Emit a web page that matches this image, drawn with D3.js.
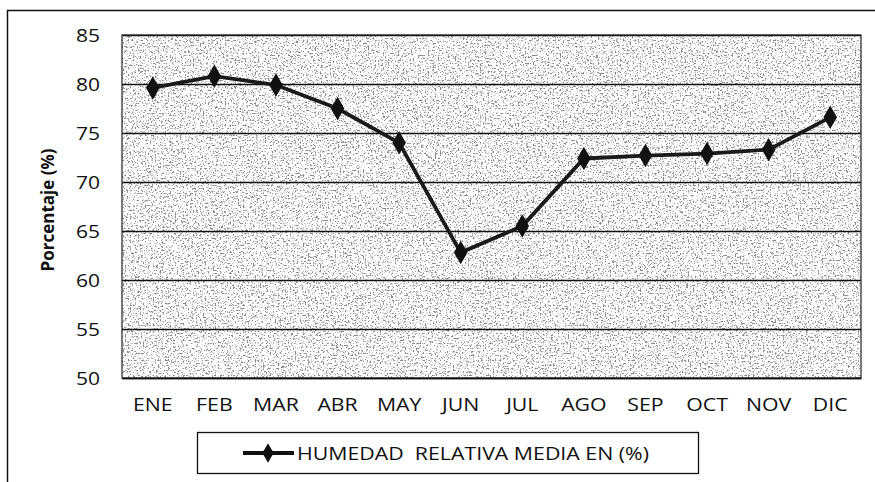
<!DOCTYPE html>
<html><head><meta charset="utf-8">
<script src="https://cdn.jsdelivr.net/npm/d3@7"></script>
<style>
html,body{margin:0;padding:0;background:#fff;}
svg{display:block;}
text{font-family:"Open Sans",Lato,sans-serif;fill:#111;}
</style></head>
<body>
<svg id="c" width="875" height="482"></svg>
<script>
const months = ["ENE","FEB","MAR","ABR","MAY","JUN","JUL","AGO","SEP","OCT","NOV","DIC"];
const humedad = [79.6, 80.8, 79.9, 77.5, 74.0, 62.8, 65.5, 72.4, 72.7, 72.9, 73.3, 76.6];
const yTicks = [50, 55, 60, 65, 70, 75, 80, 85];
const seriesName = "HUMEDAD  RELATIVA MEDIA EN (%)";
const yTitle = "Porcentaje (%)";

const FONT = "'Open Sans',Lato,sans-serif";
const svg = d3.select("#c");
const m = {left:122, top:35, right:861, bottom:378};

const defs = svg.append("defs");
const f = defs.append("filter").attr("id","speck").attr("x",0).attr("y",0).attr("width","100%").attr("height","100%");
f.append("feTurbulence").attr("type","fractalNoise").attr("baseFrequency","0.6").attr("numOctaves",3).attr("seed",11).attr("result","t");
f.append("feColorMatrix").attr("in","t").attr("type","matrix")
 .attr("values","0 0 0 0 0  0 0 0 0 0  0 0 0 0 0  2.0 0 0 0 -0.55").attr("result","a");
const ct = f.append("feComponentTransfer").attr("in","a");
ct.append("feFuncA").attr("type","discrete").attr("tableValues","0 0 0 0 0 0 0.35 0.7 1 1");

// outer chart border
svg.append("rect").attr("x",7.5).attr("y",10.5).attr("width",880).attr("height",480)
  .attr("fill","#fff").attr("stroke","#111").attr("stroke-width",1.5);

const x = d3.scaleBand().domain(months).range([m.left,m.right]);
const y = d3.scaleLinear().domain([50,85]).range([m.bottom,m.top]);

// plot background
svg.append("rect").attr("x",m.left).attr("y",m.top).attr("width",m.right-m.left).attr("height",m.bottom-m.top).attr("fill","#fff");
svg.append("rect").attr("x",m.left).attr("y",m.top).attr("width",m.right-m.left).attr("height",m.bottom-m.top)
  .attr("fill","#000").attr("filter","url(#speck)").attr("opacity",0.45);

// gridlines
const yAxis = d3.axisLeft(y).tickValues(yTicks).tickSize(-(m.right-m.left)).tickPadding(22).tickFormat(d3.format("d"));
const gy = svg.append("g").attr("transform",`translate(${m.left},0)`).call(yAxis);
gy.select(".domain").remove();
gy.selectAll(".tick line").attr("stroke","#111").attr("stroke-width",1.4);
gy.selectAll(".tick text").attr("font-size",19).attr("font-family",FONT).attr("fill","#111")
  .attr("textLength",24).attr("lengthAdjust","spacingAndGlyphs");

// plot border
svg.append("rect").attr("x",m.left).attr("y",m.top).attr("width",m.right-m.left).attr("height",m.bottom-m.top)
  .attr("fill","none").attr("stroke","#222").attr("stroke-width",1.2);

const xAxis = d3.axisBottom(x).tickSize(0).tickPadding(20);
const gx = svg.append("g").attr("transform",`translate(0,${m.bottom})`).call(xAxis);
gx.select(".domain").attr("stroke","#111").attr("stroke-width",1.6);
gx.selectAll(".tick text").attr("font-size",19).attr("font-family",FONT).attr("fill","#111")
  .attr("transform","scale(1.12,1)").attr("x",0);

// y title
svg.append("text").attr("transform","translate(54,210) rotate(-90)").attr("text-anchor","middle")
  .attr("font-size",17).attr("font-weight","bold").text(yTitle);

// line
const line = d3.line().x((d,i)=>x(months[i])+x.bandwidth()/2).y(d=>y(d));
svg.append("path").datum(humedad).attr("d",line).attr("fill","none").attr("stroke","#1a1a1a").attr("stroke-width",3.8);
const diamond = d3.symbol().type(d3.symbolDiamond).size(160);
svg.selectAll(".mk").data(humedad).join("path").attr("class","mk")
  .attr("transform",(d,i)=>`translate(${x(months[i])+x.bandwidth()/2},${y(d)})`)
  .attr("d",diamond).attr("fill","#111");

// legend
const lg = svg.append("g");
lg.append("rect").attr("x",197.5).attr("y",432.5).attr("width",501).attr("height",41)
  .attr("fill","#fff").attr("stroke","#111").attr("stroke-width",1.3);
lg.append("line").attr("x1",243).attr("x2",294).attr("y1",453).attr("y2",453).attr("stroke","#111").attr("stroke-width",3.8);
lg.append("path").attr("transform","translate(268,453)").attr("d",d3.symbol().type(d3.symbolDiamond).size(110)).attr("fill","#111");
lg.append("text").attr("x",297).attr("y",460).attr("font-size",19).style("white-space","pre")
  .attr("textLength",352).attr("lengthAdjust","spacingAndGlyphs").text(seriesName);
</script>
</body></html>
